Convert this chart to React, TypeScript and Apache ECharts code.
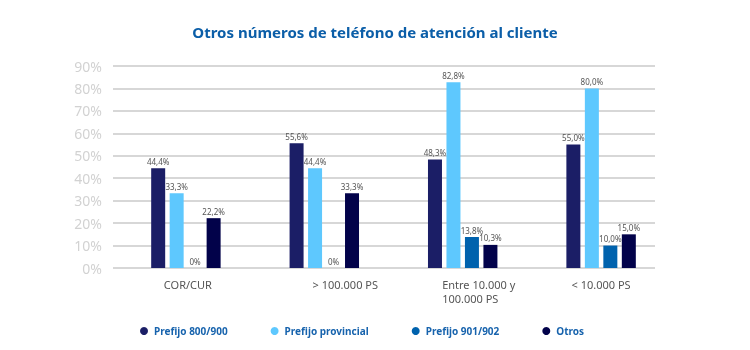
import React, { useEffect, useRef } from "react";
import * as echarts from "echarts";

const categories = ["COR/CUR", "> 100.000 PS", "Entre 10.000 y\n100.000 PS", "< 10.000 PS"];
const seriesNames = ["Prefijo 800/900", "Prefijo provincial", "Prefijo 901/902", "Otros"];
const prefijo800 = [44.4, 55.6, 48.3, 55.0];
const prefijoProvincial = [33.3, 44.4, 82.8, 80.0];
const prefijo901 = [0, 0, 13.8, 10.0];
const otros = [22.2, 33.3, 10.3, 15.0];
const yTicks = { min: 0, max: 90, interval: 10 };

const colors = ["#1b1e66", "#5ec8fe", "#0062ad", "#02024a"];
const labelShift = [
  { padding: [0, 0, 0, 4] },
  { padding: [0, 0, 0, 42] },
  { padding: [0, 0, 0, 32], align: "left" },
  { padding: [0, 0, 0, 0] },
];

const fmt = (v: number) => (v === 0 ? "0%" : v.toFixed(1).replace(".", ",") + "%");

export default function App() {
  const ref = useRef<HTMLDivElement>(null);
  useEffect(() => {
    if (!ref.current) return;
    const chart = echarts.init(ref.current, null, { renderer: "svg" });
    const values = [prefijo800, prefijoProvincial, prefijo901, otros];
    const rich: any = {};
    labelShift.forEach((s, i) => {
      rich["c" + i] = { ...s, fontSize: 11, color: "#555", lineHeight: 14, fontFamily: "Noto Sans" };
    });
    chart.setOption({
      animation: false,
      textStyle: { fontFamily: "Noto Sans" },
      title: {
        text: "Otros números de teléfono de atención al cliente",
        left: "center",
        top: 19,
        textStyle: { fontSize: 15, fontWeight: "bold", color: "#0b5ea8", fontFamily: "Noto Sans" },
      },
      legend: {
        left: 135,
        top: 321,
        icon: "circle",
        itemWidth: 8,
        itemHeight: 8,
        itemGap: 43,
        data: seriesNames,
        textStyle: { fontSize: 10, fontWeight: "bold", color: "#1763ad", padding: [0, 0, 0, 1] },
      },
      grid: [
        { left: 113, right: 95, top: 66, bottom: 82 },
        { left: 116.7, right: 79.7, top: 66, bottom: 82 },
      ],
      xAxis: [
        { type: "category", gridIndex: 0, data: categories, show: false },
        {
          type: "category",
          gridIndex: 1,
          data: categories,
          axisLine: { show: false },
          axisTick: { show: false },
          axisLabel: {
            interval: 0,
            margin: 9,
            formatter: (value: string, index: number) =>
              value
                .split("\n")
                .map((s) => `{c${index}|${s}}`)
                .join("\n"),
            rich,
          },
        },
      ],
      yAxis: [
        {
          type: "value",
          gridIndex: 0,
          ...yTicks,
          axisLine: { show: false },
          axisTick: { show: false },
          axisLabel: { formatter: "{value}%", fontSize: 14, color: "#d2d2d2", margin: 11 },
          splitLine: { lineStyle: { color: "#d7d7d7", width: 2 } },
        },
        { type: "value", gridIndex: 1, ...yTicks, show: false, splitLine: { show: false } },
      ],
      series: seriesNames.map((name, i) => ({
        name,
        type: "bar",
        xAxisIndex: 1,
        yAxisIndex: 1,
        data: values[i],
        barWidth: 14,
        barGap: "32%",
        itemStyle: { color: colors[i] },
        label: {
          show: true,
          position: "top",
          distance: 3,
          fontSize: 8,
          color: "#555",
          formatter: (p: any) => fmt(p.value),
        },
      })),
    });
    return () => chart.dispose();
  }, []);
  return <div ref={ref} style={{ position: "fixed", left: 0, top: 0, width: 750, height: 350 }} />;
}
